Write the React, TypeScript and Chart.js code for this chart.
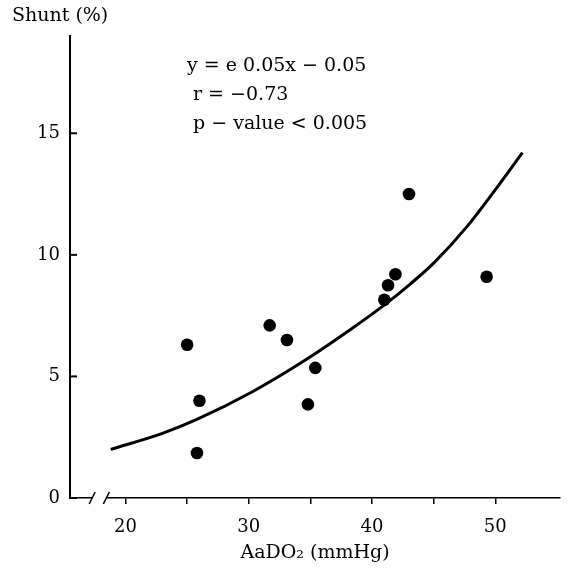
import React, { useEffect, useRef } from 'react';
import { Chart, registerables } from 'chart.js';

Chart.register(...registerables);

// Measured patients: AaDO2 (mmHg) vs shunt (%)
const shuntX = [25.0, 26.0, 25.8, 31.7, 33.1, 35.4, 34.8, 41.0, 41.3, 41.9, 43.0, 49.3];
const shuntY = [6.3, 4.0, 1.85, 7.1, 6.5, 5.35, 3.85, 8.15, 8.75, 9.2, 12.5, 9.1];

// Fitted curve, points
const fitX = [18.8, 23.0, 25.7, 30.3, 34.4, 38.2, 40.9, 43.1, 45.0, 47.7, 50.4, 52.2];
const fitY = [2.0, 2.66, 3.21, 4.37, 5.61, 6.91, 7.9, 8.8, 9.66, 11.16, 12.95, 14.2];

const xTickValues = [20, 25, 30, 35, 40, 45, 50];
const xLabelValues = [20, 30, 40, 50];
const yTickValues = [0, 5, 10, 15];

const equationLines = ['y = e 0.05x − 0.05', 'r = −0.73', 'p − value < 0.005'];
const xTitle = 'AaDO₂ (mmHg)';
const yTitle = 'Shunt (%)';

const X_MIN = 15.5;
const X_MAX = 55.25;
const Y_MIN = 0;
const Y_MAX = 19;
const BREAK_FROM = 17.3;
const BREAK_TO = 18.45;

const FONT = '"DejaVu Serif", "Liberation Serif", serif';

const decorPlugin = {
  id: 'decor',
  afterDraw(chart: any) {
    const ctx = chart.ctx;
    const { left, bottom } = chart.chartArea;
    const xs = chart.scales.x;
    const ys = chart.scales.y;
    ctx.save();
    ctx.strokeStyle = '#000';
    ctx.lineWidth = 2;
    // inward y ticks
    yTickValues.forEach((v) => {
      const py = ys.getPixelForValue(v);
      ctx.beginPath();
      ctx.moveTo(left, py);
      ctx.lineTo(left + 7, py);
      ctx.stroke();
    });
    // axis break
    const b1 = xs.getPixelForValue(BREAK_FROM);
    const b2 = xs.getPixelForValue(BREAK_TO);
    ctx.fillStyle = '#fff';
    ctx.fillRect(b1, bottom - 3, b2 - b1, 6);
    ctx.lineWidth = 1.6;
    [b1, b2].forEach((b) => {
      ctx.beginPath();
      ctx.moveTo(b - 3, bottom + 6);
      ctx.lineTo(b + 3, bottom - 6);
      ctx.stroke();
    });
    // texts
    ctx.fillStyle = '#000';
    ctx.font = '19px ' + FONT;
    ctx.textAlign = 'left';
    ctx.textBaseline = 'alphabetic';
    ctx.fillText(yTitle, 12, 21);
    const baseX = left + 117;
    ctx.fillText(equationLines[0], baseX, 71);
    ctx.fillText(equationLines[1], baseX + 6, 100);
    ctx.fillText(equationLines[2], baseX + 6, 129);
    ctx.restore();
  },
};

export default function App() {
  const ref = useRef<HTMLCanvasElement | null>(null);

  useEffect(() => {
    if (!ref.current) return;
    const chart = new Chart(ref.current, {
      type: 'scatter',
      data: {
        datasets: [
          {
            label: 'fit',
            data: fitX.map((x, i) => ({ x, y: fitY[i] })),
            showLine: true,
            borderColor: '#000',
            borderWidth: 3,
            pointRadius: 0,
            cubicInterpolationMode: 'monotone',
            fill: false,
          } as any,
          {
            label: 'patients',
            data: shuntX.map((x, i) => ({ x, y: shuntY[i] })),
            backgroundColor: '#000',
            borderColor: '#000',
            pointRadius: 6.3,
            pointBorderWidth: 0,
          } as any,
        ],
      },
      options: {
        responsive: false,
        animation: false,
        layout: { padding: { left: 0, top: 36, right: 9, bottom: 0 } },
        plugins: {
          legend: { display: false },
          tooltip: { enabled: false },
          title: { display: false },
        },
        scales: {
          x: {
            type: 'linear',
            min: X_MIN,
            max: X_MAX,
            afterBuildTicks: (scale: any) => {
              scale.ticks = xTickValues.map((v) => ({ value: v }));
            },
            afterFit: (scale: any) => {
              scale.height = 76;
            },
            ticks: {
              autoSkip: false,
              maxRotation: 0,
              padding: 13,
              color: '#000',
              font: { family: FONT, size: 18 },
              callback: (v: any) => (xLabelValues.includes(Number(v)) ? String(v) : ''),
            },
            grid: {
              display: true,
              drawOnChartArea: false,
              drawTicks: true,
              tickLength: 6,
              color: '#000',
              lineWidth: 1.5,
            },
            border: { display: true, color: '#000', width: 1.5 },
            title: {
              display: true,
              text: xTitle,
              color: '#000',
              font: { family: FONT, size: 19 },
              padding: { top: 0, bottom: 10 },
            },
          },
          y: {
            type: 'linear',
            min: Y_MIN,
            max: Y_MAX,
            afterBuildTicks: (scale: any) => {
              scale.ticks = yTickValues.map((v) => ({ value: v }));
            },
            afterFit: (scale: any) => {
              scale.width = 70;
            },
            ticks: {
              padding: 10,
              color: '#000',
              font: { family: FONT, size: 18 },
            },
            grid: { display: false, drawTicks: false },
            border: { display: true, color: '#000', width: 2 },
          },
        },
      },
      plugins: [decorPlugin],
    });
    return () => chart.destroy();
  }, []);

  return (
    <div style={{ position: 'absolute', left: 0, top: 0, width: 569, height: 574, background: '#fff' }}>
      <canvas ref={ref} width={569} height={574} style={{ display: 'block' }} />
    </div>
  );
}
